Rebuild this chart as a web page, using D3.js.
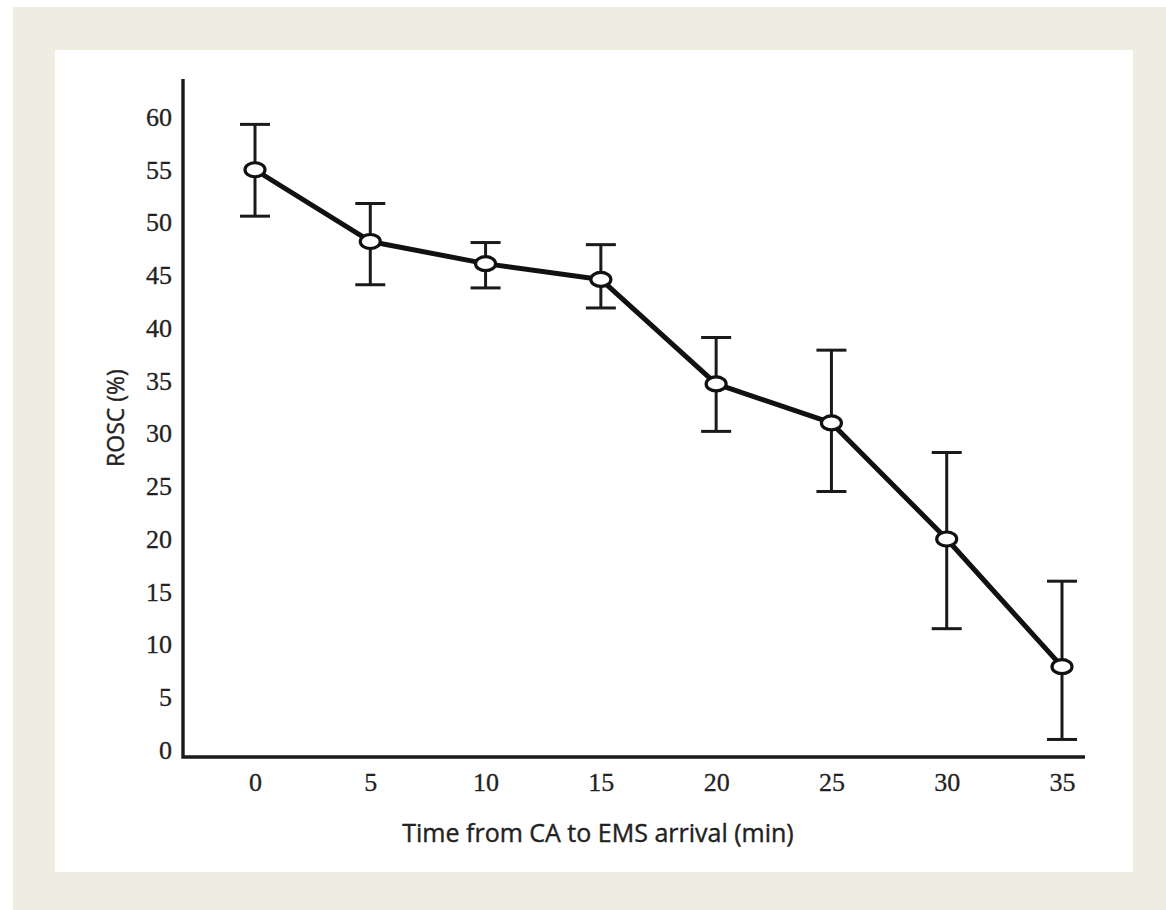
<!DOCTYPE html>
<html>
<head>
<meta charset="utf-8">
<script src="https://cdn.jsdelivr.net/npm/d3@7/dist/d3.min.js"></script>
<style>
  html, body { margin: 0; padding: 0; background: #fff; }
</style>
</head>
<body>
<div id="chart"></div>
<script>
const w = 1166, h = 910;

// data
const minutes = [0, 5, 10, 15, 20, 25, 30, 35];
const rosc    = [55, 48.2, 46.1, 44.6, 34.7, 31.0, 20.0, 7.9];
const upper   = [59.3, 51.8, 48.1, 47.9, 39.1, 37.9, 28.2, 16.0];
const lower   = [50.6, 44.1, 43.8, 41.9, 30.2, 24.5, 11.5, 1.0];
const xTicks  = [0, 5, 10, 15, 20, 25, 30, 35];
const yTicks  = [0, 5, 10, 15, 20, 25, 30, 35, 40, 45, 50, 55, 60];

const pts = minutes.map((m, i) => ({m: m, v: rosc[i], hi: upper[i], lo: lower[i]}));

const svg = d3.select("#chart").append("svg")
    .attr("width", w).attr("height", h)
    .attr("viewBox", "0 0 " + w + " " + h);

// beige frame and white panel
svg.append("rect").attr("x", 13).attr("y", 7).attr("width", w - 13).attr("height", h - 7).style("fill", "#efece2");
svg.append("rect").attr("x", 55).attr("y", 50).attr("width", 1078).attr("height", 822).style("fill", "#fff");

const x = d3.scaleLinear().domain([0, 35]).range([255, 1062]);
const y = d3.scaleLinear().domain([0, 60]).range([750, 117]);

const axLeft = 183, axRight = 1085, axTop = 79, axBottom = 757;

// axis lines
svg.append("path")
    .attr("d", "M" + axLeft + "," + axTop + "V" + axBottom + "H" + axRight)
    .style("fill", "none").style("stroke", "#1a1a1a").style("stroke-width", 3.4);

// tick labels
const gx = svg.append("g").attr("transform", "translate(0," + axBottom + ")")
    .call(d3.axisBottom(x).tickValues(xTicks).tickSize(0).tickPadding(16));
const gy = svg.append("g").attr("transform", "translate(" + axLeft + ",0)")
    .call(d3.axisLeft(y).tickValues(yTicks).tickSize(0).tickPadding(11));
[gx, gy].forEach(g => {
  g.select(".domain").remove();
  g.selectAll("text").style("font-family", "'Liberation Serif', serif")
      .style("font-size", "26px").style("fill", "#222")
      .style("stroke", "#222").style("stroke-width", 0.3);
});

// axis titles
svg.append("text").attr("x", 598).attr("y", 842).attr("text-anchor", "middle")
    .style("font-family", "'Open Sans', sans-serif").style("font-size", "25px").style("fill", "#222")
    .style("stroke", "#222").style("stroke-width", 0.4)
    .text("Time from CA to EMS arrival (min)");
svg.append("text").attr("transform", "translate(124,418) rotate(-90)").attr("text-anchor", "middle")
    .style("font-family", "'Open Sans', sans-serif").style("font-size", "23px").style("fill", "#222")
    .style("stroke", "#222").style("stroke-width", 0.4)
    .text("ROSC (%)");

// error bars
const eb = svg.append("g").style("stroke", "#1a1a1a").style("stroke-width", 3).style("fill", "none");
eb.selectAll(null).data(pts).enter().append("line")
    .attr("x1", d => x(d.m)).attr("x2", d => x(d.m))
    .attr("y1", d => y(d.hi)).attr("y2", d => y(d.lo));
eb.selectAll(null).data(pts).enter().append("line")
    .attr("x1", d => x(d.m) - 15).attr("x2", d => x(d.m) + 15)
    .attr("y1", d => y(d.hi)).attr("y2", d => y(d.hi));
eb.selectAll(null).data(pts).enter().append("line")
    .attr("x1", d => x(d.m) - 15).attr("x2", d => x(d.m) + 15)
    .attr("y1", d => y(d.lo)).attr("y2", d => y(d.lo));

// connecting line
svg.append("path").datum(pts)
    .attr("d", d3.line().x(d => x(d.m)).y(d => y(d.v)))
    .style("fill", "none").style("stroke", "#111").style("stroke-width", 5).style("stroke-linejoin", "round");

// open markers
svg.selectAll(null).data(pts).enter().append("ellipse")
    .attr("cx", d => x(d.m)).attr("cy", d => y(d.v))
    .attr("rx", 10).attr("ry", 7)
    .style("fill", "#fff").style("stroke", "#111").style("stroke-width", 3.2);
</script>
</body>
</html>
